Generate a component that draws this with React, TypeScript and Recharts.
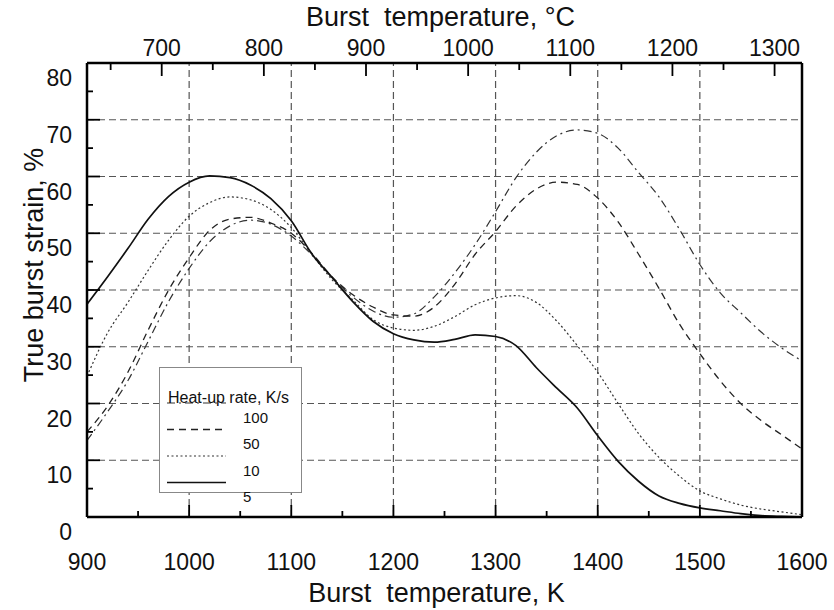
import { LineChart, Line, XAxis, YAxis, ReferenceLine, Legend, Label } from 'recharts';

// burst temperature, K
const temps = [
  900, 920, 940, 960, 980, 1000, 1020, 1040, 1060, 1080, 1100, 1120, 1140, 1160, 1180, 1200, 1220, 1240,
  1260, 1280, 1300, 1320, 1340, 1360, 1380, 1400, 1420, 1440, 1460, 1480, 1500, 1520, 1540, 1560, 1580, 1600,
];
// true burst strain, % for each heat-up rate (K/s)
const rate5 = [
  37.5, 42.3, 47.3, 52.5, 56.5, 59.0, 60.1, 59.8, 58.5, 56.1, 52.2, 46.4, 42.2, 38.0, 34.5, 32.3, 31.2, 30.8,
  31.3, 32.1, 31.8, 30.2, 26.3, 22.7, 19.2, 14.3, 9.8, 6.3, 3.7, 2.4, 1.6, 1.1, 0.6, 0.25, 0.1, 0.0,
];
const rate10 = [
  24.8, 32.4, 37.8, 43.5, 48.8, 53.0, 55.4, 56.4, 55.9, 54.2, 51.0, 46.3, 41.8, 38.3, 34.8, 33.3, 32.9, 33.6,
  35.3, 37.4, 38.6, 39.0, 37.8, 34.5, 30.2, 25.5, 20.0, 14.7, 10.5, 7.2, 4.6, 3.2, 2.1, 1.4, 0.9, 0.4,
];
const rate50 = [
  15.0, 19.5, 25.5, 33.0, 40.0, 45.7, 50.5, 52.5, 52.8, 51.8, 50.0, 46.5, 42.3, 39.2, 37.0, 35.6, 35.4, 37.0,
  41.0, 46.3, 50.3, 54.8, 57.8, 59.0, 58.6, 56.2, 52.0, 46.3, 40.3, 34.0, 28.8, 24.0, 20.0, 17.0, 14.5, 12.0,
];
const rate100 = [
  13.5, 18.5, 24.0, 31.0, 38.0, 43.8, 48.5, 51.3, 52.3, 51.6, 49.5, 46.2, 42.2, 38.8, 36.3, 35.2, 35.8, 38.8,
  43.0, 48.0, 53.8, 59.8, 64.3, 67.2, 68.2, 67.6, 65.0, 60.7, 56.4, 50.7, 44.5, 39.5, 36.0, 32.6, 29.8, 27.5,
];

const kelvinTicks = [900, 950, 1000, 1050, 1100, 1150, 1200, 1250, 1300, 1350, 1400, 1450, 1500, 1550, 1600];
const celsiusTicks = [650, 700, 750, 800, 850, 900, 950, 1000, 1050, 1100, 1150, 1200, 1250, 1300];
const strainTicks = [0, 5, 10, 15, 20, 25, 30, 35, 40, 45, 50, 55, 60, 65, 70, 75, 80];
const gridK = [1000, 1100, 1200, 1300, 1400, 1500];
const gridStrain = [10, 20, 30, 40, 50, 60, 70];

const rates = ['100', '50', '10', '5'];

const data = temps.map((t, i) => ({ t, r5: rate5[i], r10: rate10[i], r50: rate50[i], r100: rate100[i] }));

const FONT = '"Liberation Sans", Arial, Helvetica, sans-serif';
const INK = '#111';
const GRID = { stroke: '#555', strokeWidth: 1.2, strokeDasharray: '7 4' };
const BORDER = { stroke: '#000', strokeWidth: 2.5 };

const STYLES: Record<string, { dash?: string; width: number; color: string }> = {
  '100': { dash: '8 4 2 4', width: 1.2, color: '#333' },
  '50': { dash: '7 5', width: 1.3, color: '#222' },
  '10': { dash: '2 2.5', width: 1.2, color: '#333' },
  '5': { width: 1.7, color: '#111' },
};

function BottomTick(props: any) {
  const { x, y, payload } = props;
  const v = payload.value;
  const major = v % 100 === 0;
  return (
    <g>
      {v > 900 && v < 1600 && (
        <line x1={x} x2={x} y1={y} y2={y - (major ? 12 : 6)} stroke="#000" strokeWidth={1.8} />
      )}
      {major && (
        <text x={x} y={y + 45} textAnchor="middle" dominantBaseline="central" fontSize={23} fill={INK} fontFamily={FONT}>
          {v}
        </text>
      )}
    </g>
  );
}

function TopTick(props: any) {
  const { x, y, payload } = props;
  const c = Math.round(payload.value - 273.15);
  const major = c % 100 === 0;
  return (
    <g>
      <line x1={x} x2={x} y1={y} y2={y + (major ? 13 : 7)} stroke="#000" strokeWidth={1.8} />
      {major && (
        <text x={x} y={y - 15} textAnchor="middle" dominantBaseline="central" fontSize={23} fill={INK} fontFamily={FONT}>
          {c}
        </text>
      )}
    </g>
  );
}

function LeftTick(props: any) {
  const { x, y, payload } = props;
  const v = payload.value;
  const major = v % 10 === 0;
  return (
    <g>
      {v > 0 && v < 80 && (
        <line x1={x} x2={x + (major ? 13 : 6)} y1={y} y2={y} stroke="#000" strokeWidth={1.8} />
      )}
      {major && (
        <text x={x - 15} y={y + 15} textAnchor="end" dominantBaseline="central" fontSize={23} fill={INK} fontFamily={FONT}>
          {v}
        </text>
      )}
    </g>
  );
}

function RateLegend() {
  return (
    <svg width={143} height={126} style={{ overflow: 'visible', display: 'block' }}>
      <rect x={0.5} y={0.5} width={142} height={125} fill="#fff" stroke="#888" strokeWidth={1} />
      {rates.map((r, i) => {
        const s = STYLES[r];
        const ly = 36 + i * 26.5;
        return (
          <g key={r}>
            <line x1={8} x2={67} y1={ly} y2={ly} stroke={s.color} strokeWidth={s.width} strokeDasharray={s.dash} />
            <text x={84} y={ly + 14} dominantBaseline="central" fontSize={15} fill={INK} fontFamily={FONT}>
              {r}
            </text>
          </g>
        );
      })}
      <text x={9} y={30} dominantBaseline="central" fontSize={16} fill={INK} fontFamily={FONT}>
        Heat-up rate, K/s
      </text>
    </svg>
  );
}

export default function App() {
  return (
    <div style={{ position: 'absolute', left: 0, top: 0, background: '#fff', fontFamily: FONT }}>
      <LineChart width={834} height={610} data={data} margin={{ top: 62, right: 32, bottom: 92, left: 86 }}>
        <XAxis
          xAxisId="k"
          dataKey="t"
          type="number"
          domain={[900, 1600]}
          ticks={kelvinTicks}
          interval={0}
          height={1}
          tickSize={0}
          tickMargin={0}
          tickLine={false}
          axisLine={BORDER}
          tick={<BottomTick />}
        >
          <Label
            content={(p: any) => (
              <text
                x={p.viewBox.x + p.viewBox.width / 2 - 8}
                y={p.viewBox.y + 76}
                textAnchor="middle"
                dominantBaseline="central"
                fontSize={27}
                fill={INK}
                fontFamily={FONT}
                style={{ whiteSpace: 'pre' }}
              >
                {'Burst  temperature, K'}
              </text>
            )}
          />
        </XAxis>
        <XAxis
          xAxisId="c"
          dataKey="t"
          orientation="top"
          type="number"
          domain={[900, 1600]}
          allowDataOverflow
          ticks={celsiusTicks.map((c) => c + 273.15)}
          interval={0}
          height={1}
          tickSize={0}
          tickMargin={0}
          tickLine={false}
          axisLine={BORDER}
          tick={<TopTick />}
        >
          <Label
            content={(p: any) => (
              <text
                x={p.viewBox.x + p.viewBox.width / 2 - 4}
                y={p.viewBox.y + p.viewBox.height - 46}
                textAnchor="middle"
                dominantBaseline="central"
                fontSize={27}
                fill={INK}
                fontFamily={FONT}
                style={{ whiteSpace: 'pre' }}
              >
                {'Burst  temperature, °C'}
              </text>
            )}
          />
        </XAxis>
        <YAxis
          yAxisId="s"
          type="number"
          domain={[0, 80]}
          allowDataOverflow
          ticks={strainTicks}
          interval={0}
          width={1}
          tickSize={0}
          tickMargin={0}
          tickLine={false}
          axisLine={BORDER}
          tick={<LeftTick />}
        >
          <Label
            content={(p: any) => {
              const cx = p.viewBox.x - 52;
              const cy = p.viewBox.y + p.viewBox.height / 2 - 25;
              return (
                <text
                  x={cx}
                  y={cy}
                  transform={`rotate(-90, ${cx}, ${cy})`}
                  textAnchor="middle"
                  dominantBaseline="central"
                  fontSize={27}
                  fill={INK}
                  fontFamily={FONT}
                >
                  True burst strain, %
                </text>
              );
            }}
          />
        </YAxis>
        {gridK.map((g) => (
          <ReferenceLine key={'x' + g} xAxisId="k" yAxisId="s" x={g} {...GRID} />
        ))}
        {gridStrain.map((g) => (
          <ReferenceLine key={'y' + g} xAxisId="k" yAxisId="s" y={g} {...GRID} />
        ))}
        <ReferenceLine xAxisId="k" yAxisId="s" x={1600} {...BORDER} />
        <Line xAxisId="k" yAxisId="s" type="monotone" dataKey="r100" name="100" stroke={STYLES['100'].color} strokeWidth={STYLES['100'].width} strokeDasharray={STYLES['100'].dash} dot={false} activeDot={false} isAnimationActive={false} />
        <Line xAxisId="k" yAxisId="s" type="monotone" dataKey="r50" name="50" stroke={STYLES['50'].color} strokeWidth={STYLES['50'].width} strokeDasharray={STYLES['50'].dash} dot={false} activeDot={false} isAnimationActive={false} />
        <Line xAxisId="k" yAxisId="s" type="monotone" dataKey="r10" name="10" stroke={STYLES['10'].color} strokeWidth={STYLES['10'].width} strokeDasharray={STYLES['10'].dash} dot={false} activeDot={false} isAnimationActive={false} />
        <Line xAxisId="k" yAxisId="s" type="monotone" dataKey="r5" name="5" stroke={STYLES['5'].color} strokeWidth={STYLES['5'].width} dot={false} activeDot={false} isAnimationActive={false} />
        <Legend
          layout="horizontal"
          verticalAlign="middle"
          align="center"
          content={() => <RateLegend />}
          wrapperStyle={{ position: 'absolute', left: 159, top: 367, width: 143, height: 126, bottom: 'auto', right: 'auto' }}
        />
      </LineChart>
    </div>
  );
}
